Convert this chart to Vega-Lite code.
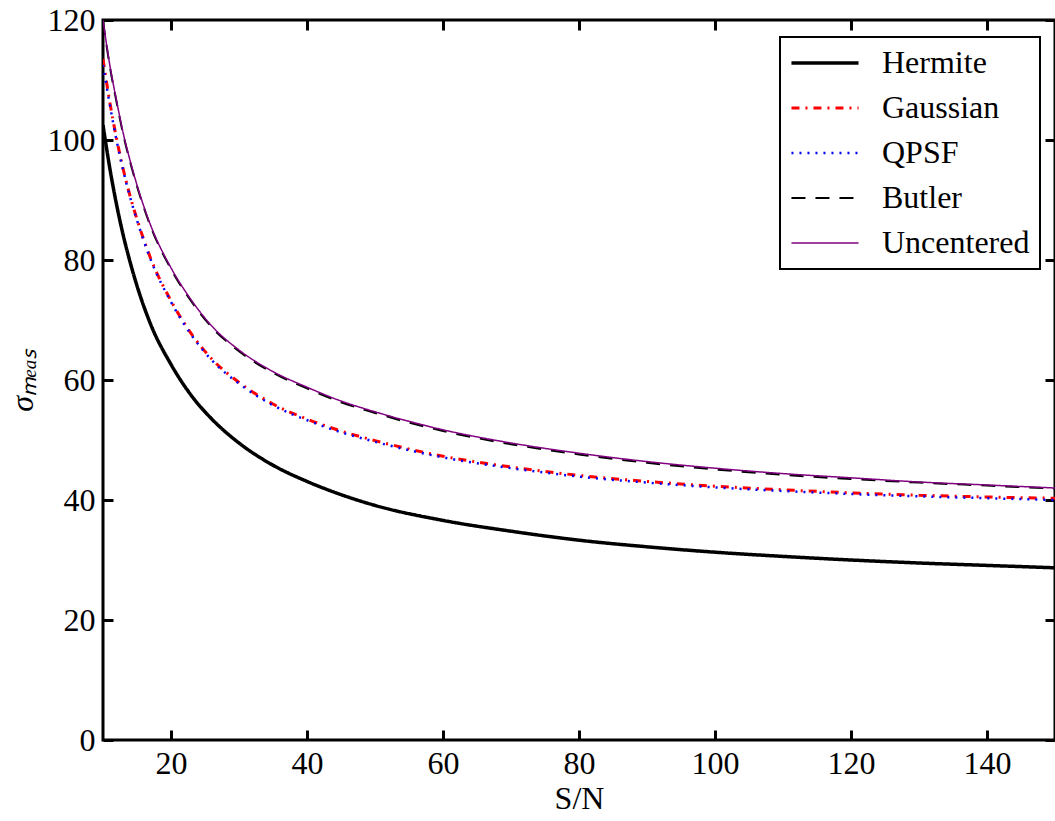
{
  "$schema": "https://vega.github.io/schema/vega-lite/v6.json",
  "width": 952,
  "height": 720,
  "autosize": {"type": "none"},
  "padding": {"left": 103, "top": 20, "right": 0, "bottom": 81},
  "background": "white",
  "config": {
    "view": {"stroke": "black", "strokeWidth": 3},
    "font": "Liberation Serif",
    "axis": {
      "labelFont": "Liberation Serif",
      "titleFont": "Liberation Serif",
      "labelColor": "black",
      "titleColor": "black",
      "labelFontSize": 32,
      "titleFontSize": 32,
      "titleFontWeight": "normal",
      "grid": false,
      "domain": false,
      "tickColor": "black",
      "tickWidth": 3,
      "tickSize": -10,
      "labelPadding": 18
    },
    "legend": {
      "orient": "none",
      "legendX": 677,
      "legendY": 17,
      "labelFont": "Liberation Serif",
      "labelFontSize": 32,
      "labelColor": "black",
      "symbolType": "M-5,0H5",
      "symbolSize": 180,
      "symbolOffset": 19,
      "strokeColor": "black",
      "strokeWidth": 2,
      "fillColor": "white",
      "padding": 10,
      "rowPadding": 13,
      "labelOffset": 41,
      "cornerRadius": 0
    }
  },
  "data": {
    "values": [
      {"sn":10,"sigma":102.5,"method":"Hermite"},{"sn":11,"sigma":95.3,"method":"Hermite"},{"sn":12,"sigma":89.2,"method":"Hermite"},{"sn":13,"sigma":84.0,"method":"Hermite"},{"sn":14,"sigma":79.6,"method":"Hermite"},{"sn":15,"sigma":75.7,"method":"Hermite"},{"sn":17,"sigma":69.3,"method":"Hermite"},{"sn":20,"sigma":62.6,"method":"Hermite"},{"sn":23,"sigma":57.4,"method":"Hermite"},{"sn":26,"sigma":53.5,"method":"Hermite"},{"sn":30,"sigma":49.5,"method":"Hermite"},{"sn":35,"sigma":45.8,"method":"Hermite"},{"sn":40,"sigma":43.1,"method":"Hermite"},{"sn":45,"sigma":40.9,"method":"Hermite"},{"sn":50,"sigma":39.1,"method":"Hermite"},{"sn":60,"sigma":36.6,"method":"Hermite"},{"sn":70,"sigma":34.8,"method":"Hermite"},{"sn":80,"sigma":33.3,"method":"Hermite"},{"sn":90,"sigma":32.2,"method":"Hermite"},{"sn":100,"sigma":31.3,"method":"Hermite"},{"sn":110,"sigma":30.6,"method":"Hermite"},{"sn":120,"sigma":30.0,"method":"Hermite"},{"sn":130,"sigma":29.5,"method":"Hermite"},{"sn":140,"sigma":29.1,"method":"Hermite"},{"sn":150,"sigma":28.7,"method":"Hermite"},
      {"sn":10,"sigma":113.5,"method":"Gaussian"},{"sn":11,"sigma":106.3,"method":"Gaussian"},{"sn":12,"sigma":100.2,"method":"Gaussian"},{"sn":13,"sigma":95.0,"method":"Gaussian"},{"sn":14,"sigma":90.6,"method":"Gaussian"},{"sn":15,"sigma":86.8,"method":"Gaussian"},{"sn":17,"sigma":80.3,"method":"Gaussian"},{"sn":20,"sigma":73.2,"method":"Gaussian"},{"sn":23,"sigma":67.7,"method":"Gaussian"},{"sn":26,"sigma":63.5,"method":"Gaussian"},{"sn":30,"sigma":59.6,"method":"Gaussian"},{"sn":35,"sigma":56.0,"method":"Gaussian"},{"sn":40,"sigma":53.5,"method":"Gaussian"},{"sn":45,"sigma":51.5,"method":"Gaussian"},{"sn":50,"sigma":49.9,"method":"Gaussian"},{"sn":60,"sigma":47.3,"method":"Gaussian"},{"sn":70,"sigma":45.5,"method":"Gaussian"},{"sn":80,"sigma":44.1,"method":"Gaussian"},{"sn":90,"sigma":43.1,"method":"Gaussian"},{"sn":100,"sigma":42.3,"method":"Gaussian"},{"sn":110,"sigma":41.7,"method":"Gaussian"},{"sn":120,"sigma":41.2,"method":"Gaussian"},{"sn":130,"sigma":40.8,"method":"Gaussian"},{"sn":140,"sigma":40.5,"method":"Gaussian"},{"sn":150,"sigma":40.3,"method":"Gaussian"},
      {"sn":10,"sigma":112.5,"method":"QPSF"},{"sn":11,"sigma":105.9,"method":"QPSF"},{"sn":12,"sigma":99.9,"method":"QPSF"},{"sn":13,"sigma":94.8,"method":"QPSF"},{"sn":14,"sigma":90.4,"method":"QPSF"},{"sn":15,"sigma":86.6,"method":"QPSF"},{"sn":17,"sigma":80.1,"method":"QPSF"},{"sn":20,"sigma":73.0,"method":"QPSF"},{"sn":23,"sigma":67.5,"method":"QPSF"},{"sn":26,"sigma":63.3,"method":"QPSF"},{"sn":30,"sigma":59.4,"method":"QPSF"},{"sn":35,"sigma":55.8,"method":"QPSF"},{"sn":40,"sigma":53.3,"method":"QPSF"},{"sn":45,"sigma":51.3,"method":"QPSF"},{"sn":50,"sigma":49.7,"method":"QPSF"},{"sn":60,"sigma":47.1,"method":"QPSF"},{"sn":70,"sigma":45.3,"method":"QPSF"},{"sn":80,"sigma":43.9,"method":"QPSF"},{"sn":90,"sigma":42.9,"method":"QPSF"},{"sn":100,"sigma":42.1,"method":"QPSF"},{"sn":110,"sigma":41.5,"method":"QPSF"},{"sn":120,"sigma":41.0,"method":"QPSF"},{"sn":130,"sigma":40.6,"method":"QPSF"},{"sn":140,"sigma":40.3,"method":"QPSF"},{"sn":150,"sigma":40.0,"method":"QPSF"},
      {"sn":10,"sigma":119.8,"method":"Butler"},{"sn":11,"sigma":112.3,"method":"Butler"},{"sn":12,"sigma":106.3,"method":"Butler"},{"sn":13,"sigma":100.8,"method":"Butler"},{"sn":14,"sigma":96.3,"method":"Butler"},{"sn":15,"sigma":92.3,"method":"Butler"},{"sn":17,"sigma":85.6,"method":"Butler"},{"sn":20,"sigma":78.5,"method":"Butler"},{"sn":23,"sigma":73.1,"method":"Butler"},{"sn":26,"sigma":68.8,"method":"Butler"},{"sn":30,"sigma":64.8,"method":"Butler"},{"sn":35,"sigma":61.2,"method":"Butler"},{"sn":40,"sigma":58.6,"method":"Butler"},{"sn":45,"sigma":56.3,"method":"Butler"},{"sn":50,"sigma":54.5,"method":"Butler"},{"sn":60,"sigma":51.5,"method":"Butler"},{"sn":70,"sigma":49.3,"method":"Butler"},{"sn":80,"sigma":47.6,"method":"Butler"},{"sn":90,"sigma":46.2,"method":"Butler"},{"sn":100,"sigma":45.1,"method":"Butler"},{"sn":110,"sigma":44.2,"method":"Butler"},{"sn":120,"sigma":43.5,"method":"Butler"},{"sn":130,"sigma":42.9,"method":"Butler"},{"sn":140,"sigma":42.4,"method":"Butler"},{"sn":150,"sigma":41.9,"method":"Butler"},
      {"sn":10,"sigma":120,"method":"Uncentered"},{"sn":11,"sigma":112.5,"method":"Uncentered"},{"sn":12,"sigma":106.5,"method":"Uncentered"},{"sn":13,"sigma":101.0,"method":"Uncentered"},{"sn":14,"sigma":96.5,"method":"Uncentered"},{"sn":15,"sigma":92.5,"method":"Uncentered"},{"sn":17,"sigma":85.8,"method":"Uncentered"},{"sn":20,"sigma":78.7,"method":"Uncentered"},{"sn":23,"sigma":73.3,"method":"Uncentered"},{"sn":26,"sigma":69.0,"method":"Uncentered"},{"sn":30,"sigma":65.0,"method":"Uncentered"},{"sn":35,"sigma":61.4,"method":"Uncentered"},{"sn":40,"sigma":58.8,"method":"Uncentered"},{"sn":45,"sigma":56.5,"method":"Uncentered"},{"sn":50,"sigma":54.7,"method":"Uncentered"},{"sn":60,"sigma":51.7,"method":"Uncentered"},{"sn":70,"sigma":49.5,"method":"Uncentered"},{"sn":80,"sigma":47.8,"method":"Uncentered"},{"sn":90,"sigma":46.4,"method":"Uncentered"},{"sn":100,"sigma":45.3,"method":"Uncentered"},{"sn":110,"sigma":44.4,"method":"Uncentered"},{"sn":120,"sigma":43.7,"method":"Uncentered"},{"sn":130,"sigma":43.0,"method":"Uncentered"},{"sn":140,"sigma":42.5,"method":"Uncentered"},{"sn":150,"sigma":42.0,"method":"Uncentered"}
    ]
  },
  "layer": [
    {
      "mark": {"type": "line", "interpolate": "monotone", "clip": true},
      "encoding": {
        "x": {"field": "sn", "type": "quantitative", "scale": {"domain": [10, 150], "nice": false, "zero": false},
              "axis": {"orient": "bottom", "title": "S/N", "values": [20, 40, 60, 80, 100, 120, 140], "titlePadding": 4}},
        "y": {"field": "sigma", "type": "quantitative", "scale": {"domain": [0, 120], "nice": false},
              "axis": {"orient": "left", "title": "σₘₑₐₛ", "titleFontStyle": "italic", "values": [0, 20, 40, 60, 80, 100, 120], "titlePadding": 8}},
        "color": {"field": "method", "type": "nominal",
                  "scale": {"domain": ["Hermite", "Gaussian", "QPSF", "Butler", "Uncentered"], "range": ["#000000", "#ff0000", "#0000ff", "#000000", "#800080"]},
                  "legend": {"title": null}},
        "strokeDash": {"field": "method", "type": "nominal",
                  "scale": {"domain": ["Hermite", "Gaussian", "QPSF", "Butler", "Uncentered"], "range": [[1, 0], [8, 6, 2, 6], [2, 6], [14, 10], [1, 0]]},
                  "legend": {"title": null}},
        "strokeWidth": {"field": "method", "type": "nominal",
                  "scale": {"domain": ["Hermite", "Gaussian", "QPSF", "Butler", "Uncentered"], "range": [3.5, 1.5, 1.5, 1.5, 1.5]},
                  "legend": {"title": null}}
      }
    },
    {
      "mark": {"type": "line", "opacity": 0},
      "encoding": {
        "x": {"field": "sn", "type": "quantitative",
              "axis": {"orient": "top", "title": null, "labels": false, "values": [20, 40, 60, 80, 100, 120, 140]}},
        "y": {"field": "sigma", "type": "quantitative",
              "axis": {"orient": "right", "title": null, "labels": false, "values": [0, 20, 40, 60, 80, 100, 120]}},
        "detail": {"field": "method"}
      }
    }
  ],
  "resolve": {"axis": {"x": "independent", "y": "independent"}}
}
